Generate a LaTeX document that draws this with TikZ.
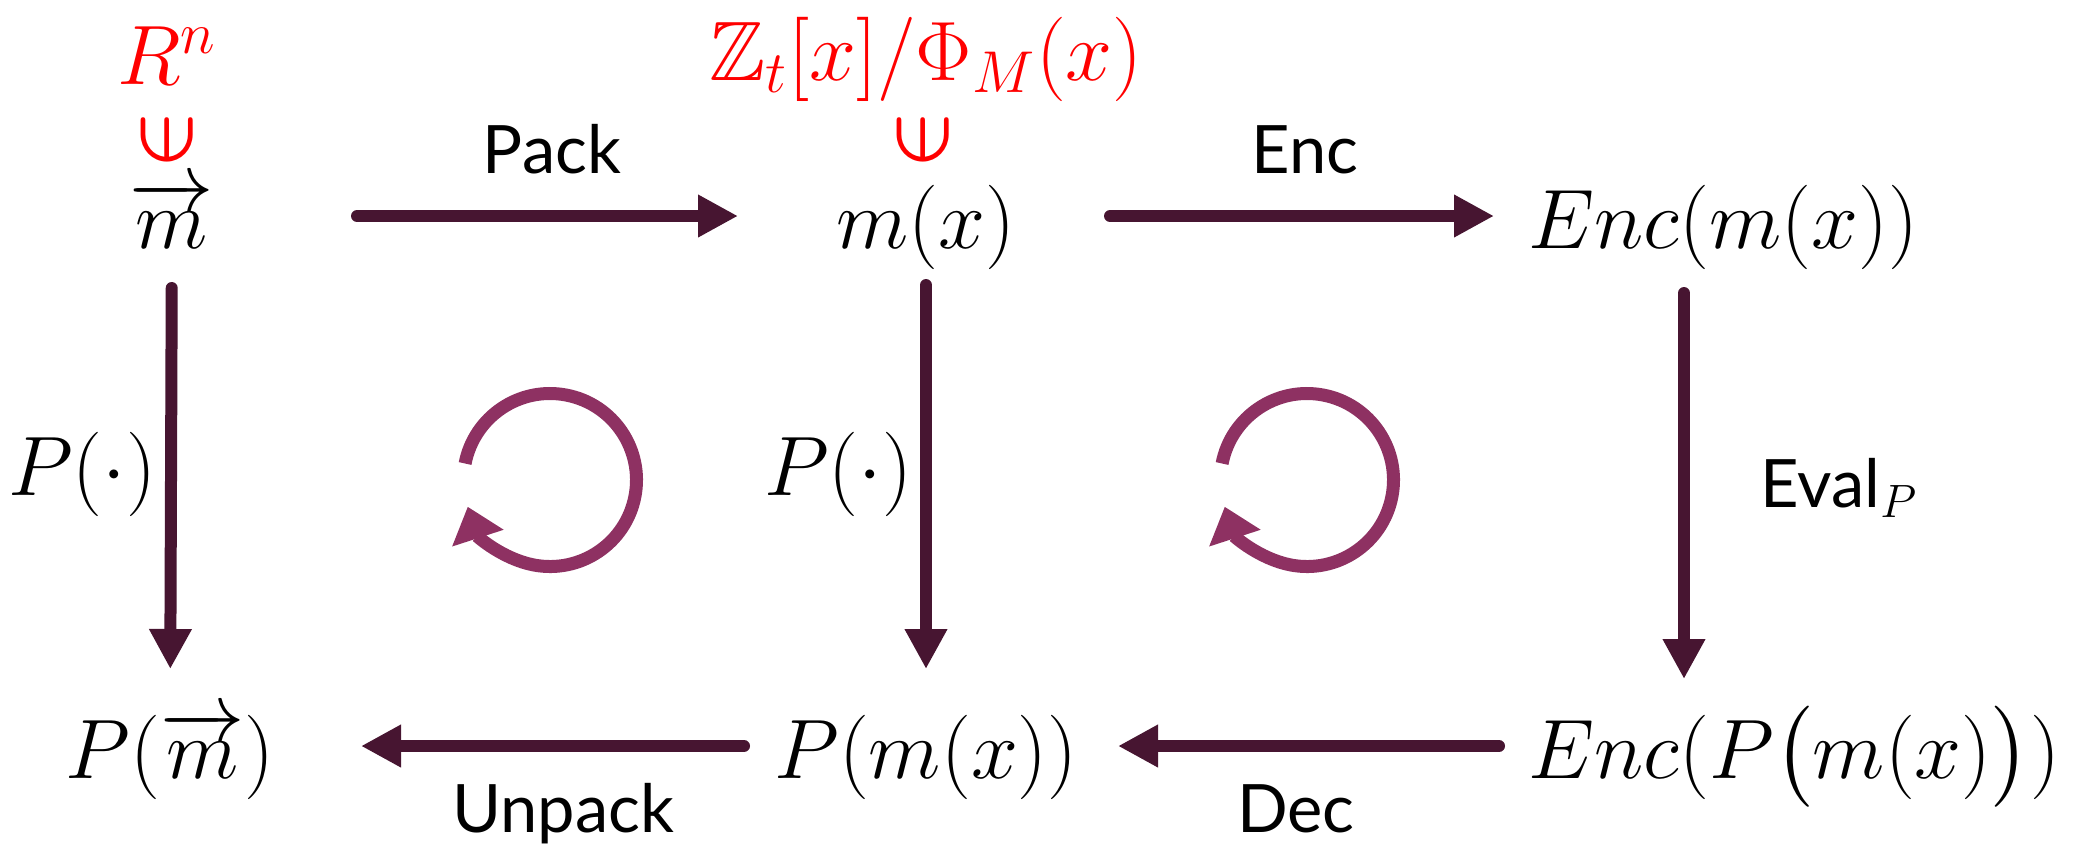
\RequirePackage{fix-cm}
\documentclass[tikz,border=0pt]{standalone}
\usepackage{amsmath,amssymb}
\usepackage{fontspec}
\setsansfont{Lato}
\usetikzlibrary{arrows.meta}
\definecolor{cdplum}{HTML}{471531}
\definecolor{cdloop}{HTML}{8E3162}
\definecolor{cdred}{HTML}{FF0000}

\begin{document}
\begin{tikzpicture}[
    term/.style={font=\fontsize{24}{29}\selectfont, inner sep=0pt,
                 text height=0.7cm, text depth=0.06cm},
    note/.style={font=\fontsize{24}{29}\selectfont, inner sep=0pt, anchor=base},
    elem/.style={text=cdred, font=\fontsize{22}{26}\selectfont\boldmath, inner sep=0pt,
                 transform shape, rotate=90},
    lbl/.style={font=\sffamily\fontsize{19}{23}\selectfont, inner sep=0pt, anchor=base},
    arr/.style={draw=cdplum, line width=0.12cm, line cap=round,
                -{Triangle[length=0.4cm, width=0.4cm]}},
    cyc/.style={draw=cdloop, line width=0.13cm,
                -{Triangle[length=0.33cm, width=0.52cm]}}
  ]
  \useasboundingbox (0,0) rectangle (20.92,-8.48);

  % sets on top
  \node[note, text=cdred] (rn) at (1.67,-0.84) {$R^n$};
  \node[note, text=cdred] (ring) at (9.26,-0.80) {$\mathbb{Z}_t[x]/\Phi_M(x)$};
  \node[elem] (inl) at (1.67,-1.40) {$\in$};
  \node[elem] (inm) at (9.23,-1.40) {$\in$};

  % top row
  \node[term, anchor=base] (vm) at (1.72,-2.48) {$\overrightarrow{m}$};
  \node[term, anchor=base] (mx) at (9.26,-2.48) {$m(x)$};
  \node[term, anchor=base west] (emx) at (15.28,-2.48) {$Enc(m(x))$};

  % bottom row
  \node[term, anchor=base] (pv) at (1.70,-7.78) {$P(\overrightarrow{m})$};
  \node[term, anchor=base] (pmx) at (9.26,-7.78) {$P(m(x))$};
  \node[term, anchor=base west] (epmx) at (15.28,-7.78) {$Enc(P\bigl(m(x)\bigr))$};

  % labels
  \node[lbl] (pack) at (5.52,-1.73) {Pack};
  \node[lbl] (enc) at (13.05,-1.73) {Enc};
  \node[lbl] (unpack) at (5.63,-8.32) {Unpack};
  \node[lbl] (dec) at (12.96,-8.32) {Dec};
  \node[note] (pl) at (0.82,-4.95) {$P(\cdot)$};
  \node[note] (pm) at (8.38,-4.95) {$P(\cdot)$};
  \node[lbl, anchor=base west] (eval) at (17.60,-5.07) {Eval$_P$};

  % arrows
  \draw[arr, shorten <=1.85cm, shorten >=1.88cm] (vm.center) -- (mx.center);
  \draw[arr, shorten <=1.84cm, shorten >=0.34cm] (mx.center) -- (emx.west);
  \draw[arr, shorten <=0.72cm, shorten >=0.77cm] (vm.center) -- (pv.center);
  \draw[arr, shorten <=0.69cm, shorten >=0.77cm] (mx.center) -- (pmx.center);
  \draw[arr, shorten <=0.77cm, shorten >=0.67cm]
    ([xshift=1.56cm]emx.west) -- ([xshift=1.56cm]epmx.west);
  \draw[arr, shorten <=1.82cm, shorten >=1.91cm] (pmx.center) -- (pv.center);
  \draw[arr, shorten <=0.29cm, shorten >=1.92cm] (epmx.west) -- (pmx.center);

  % commuting loops
  \coordinate (lc) at (5.50,-4.80);
  \coordinate (rc) at (13.07,-4.80);
  \foreach \c in {lc,rc}
    \draw[cyc] (\c) ++(169:0.865) arc[start angle=169, end angle=-162, radius=0.865];
\end{tikzpicture}
\end{document}
